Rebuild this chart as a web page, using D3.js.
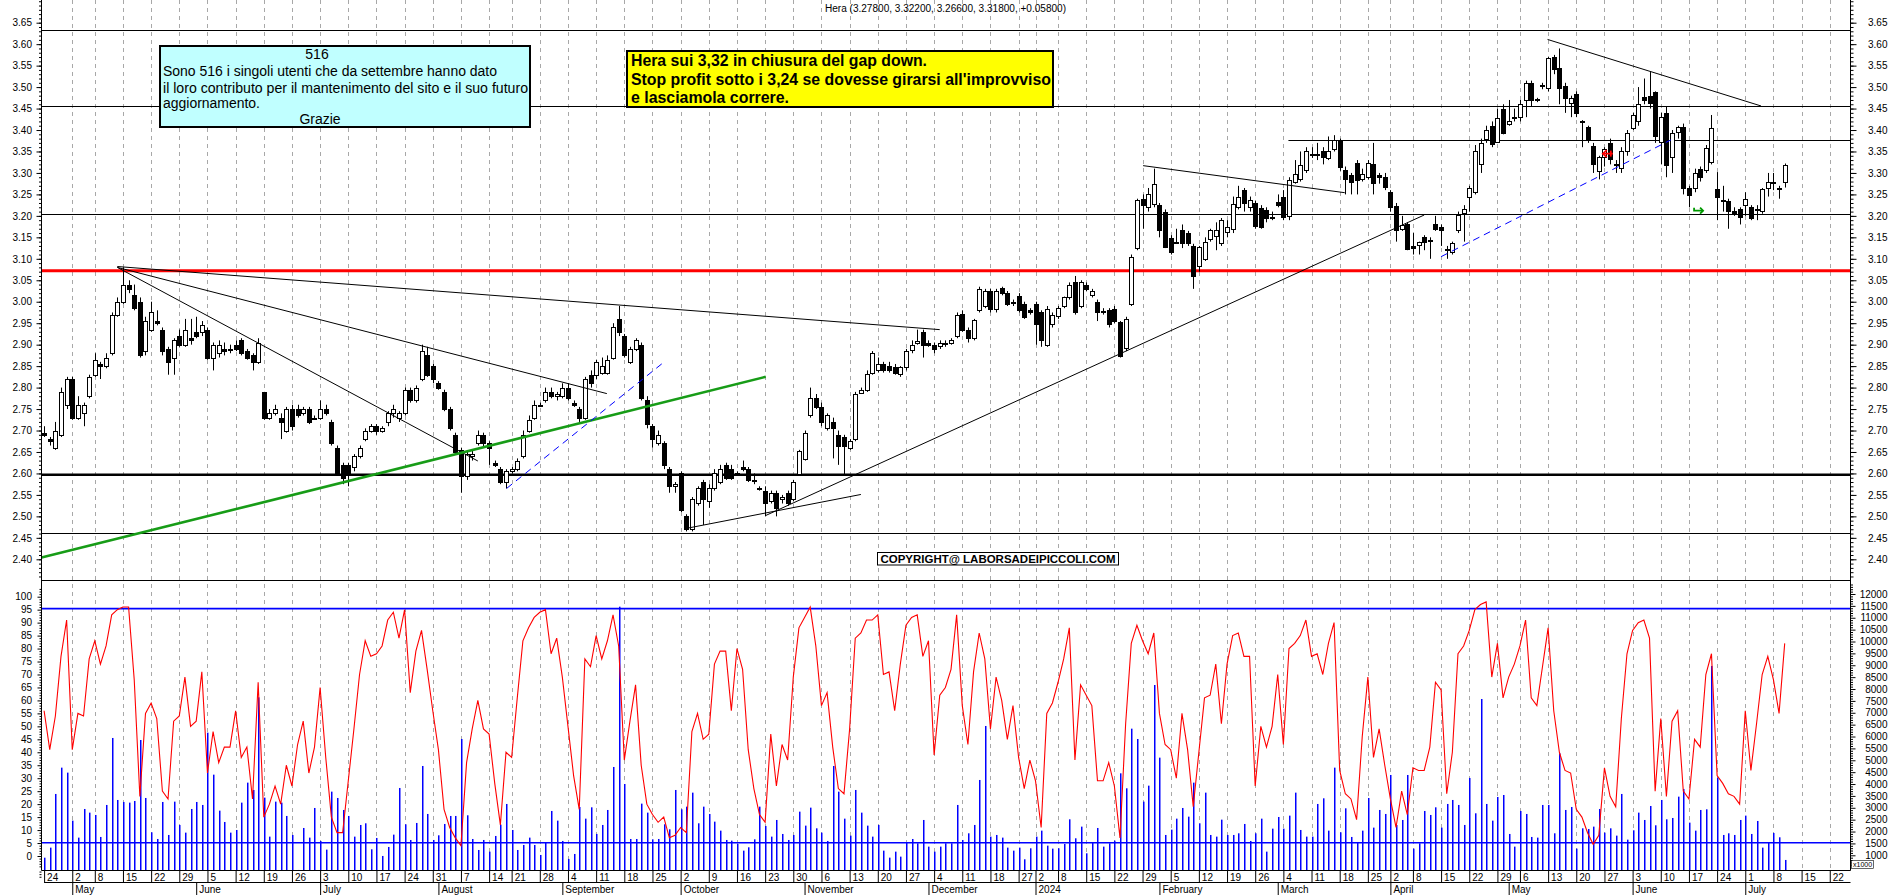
<!DOCTYPE html>
<html><head><meta charset="utf-8">
<script src="https://cdn.jsdelivr.net/npm/d3@7"></script>
<style>body{margin:0;background:#fff}svg{display:block}</style>
</head><body><svg id="c" width="1890" height="895"></svg>
<script>
// ---------------- DATA ----------------
const startDate = "2023-04-24", endDate = "2024-07-26";
const holidays = ["2023-05-01","2023-08-15","2023-12-25","2023-12-26","2024-01-01","2024-03-29","2024-04-01","2024-05-01"];
const monthNames = ["January","February","March","April","May","June","July","August","September","October","November","December"];

const open = [
2.695,2.68,2.66,2.69,2.76,2.82,2.73,2.74,2.78,2.83,
2.855,2.85,2.88,2.97,3.00,3.04,3.015,3.00,2.885,2.935,
2.955,2.935,2.89,2.87,2.92,2.90,2.915,2.93,2.93,2.935,
2.87,2.88,2.89,2.89,2.90,2.91,2.885,2.875,2.86,2.79,
2.73,2.74,2.73,2.70,2.75,2.75,2.74,2.75,2.73,2.73,
2.75,2.72,2.66,2.62,2.62,2.615,2.64,2.68,2.70,2.71,
2.70,2.72,2.74,2.73,2.74,2.795,2.77,2.82,2.875,2.85,
2.81,2.79,2.75,2.69,2.655,2.595,2.64,2.67,2.69,2.67,
2.625,2.61,2.58,2.605,2.61,2.64,2.70,2.73,2.76,2.77,
2.79,2.78,2.78,2.80,2.765,2.75,2.73,2.83,2.83,2.835,
2.835,2.87,2.96,2.92,2.86,2.89,2.90,2.77,2.71,2.67,
2.67,2.61,2.57,2.60,2.50,2.47,2.53,2.58,2.535,2.565,
2.58,2.62,2.61,2.60,2.615,2.61,2.585,2.565,2.56,2.535,
2.555,2.54,2.555,2.54,2.598,2.634,2.735,2.775,2.755,2.705,
2.72,2.69,2.685,2.66,2.68,2.787,2.795,2.835,2.84,2.855,
2.85,2.848,2.832,2.848,2.887,2.905,2.93,2.905,2.90,2.896,
2.905,2.905,2.92,2.972,2.935,2.915,2.98,2.99,3.025,2.982,
3.033,3.02,2.998,3.013,2.995,2.98,2.994,2.975,2.90,2.947,
2.966,2.99,3.01,3.045,2.99,3.04,3.015,3.00,2.978,2.98,
2.982,2.952,2.893,2.994,3.125,3.24,3.22,3.228,3.225,3.21,
3.148,3.14,3.167,3.16,3.13,3.083,3.10,3.145,3.153,3.136,
3.163,3.17,3.22,3.26,3.221,3.23,3.218,3.214,3.198,3.233,
3.245,3.20,3.28,3.287,3.307,3.343,3.342,3.352,3.334,3.355,
3.375,3.308,3.295,3.324,3.285,3.291,3.322,3.295,3.291,3.256,
3.223,3.169,3.181,3.13,3.132,3.15,3.142,3.181,3.173,3.122,
3.117,3.167,3.207,3.245,3.256,3.322,3.378,3.409,3.372,3.45,
3.414,3.43,3.431,3.47,3.51,3.473,3.505,3.497,3.569,3.544,
3.502,3.464,3.484,3.422,3.406,3.363,3.305,3.338,3.37,3.322,
3.311,3.352,3.404,3.42,3.478,3.479,3.488,3.373,3.44,3.338,
3.396,3.406,3.264,3.264,3.31,3.307,3.326,3.262,3.236,3.235,
3.212,3.215,3.225,3.22,3.217,3.212,3.264,3.28,3.265,3.278];

const high = [
2.71,2.685,2.72,2.80,2.825,2.825,2.78,2.765,2.83,2.88,
2.86,2.88,2.975,3.01,3.08,3.05,3.04,3.01,2.965,3.00,
2.98,2.94,2.895,2.915,2.935,2.96,2.96,2.965,2.955,2.94,
2.905,2.91,2.905,2.90,2.91,2.915,2.89,2.88,2.915,2.79,
2.75,2.76,2.74,2.755,2.76,2.76,2.755,2.755,2.735,2.77,
2.76,2.725,2.665,2.625,2.625,2.645,2.665,2.705,2.715,2.715,
2.71,2.745,2.76,2.745,2.80,2.80,2.805,2.90,2.895,2.855,
2.815,2.795,2.755,2.695,2.66,2.65,2.655,2.70,2.695,2.675,
2.63,2.615,2.61,2.615,2.635,2.70,2.735,2.77,2.765,2.80,
2.80,2.79,2.81,2.81,2.77,2.755,2.825,2.84,2.865,2.87,
2.875,2.95,2.99,2.925,2.895,2.915,2.905,2.78,2.715,2.70,
2.675,2.615,2.58,2.605,2.505,2.545,2.57,2.585,2.575,2.61,
2.62,2.625,2.62,2.605,2.63,2.615,2.60,2.57,2.57,2.56,
2.56,2.55,2.56,2.585,2.655,2.70,2.80,2.785,2.765,2.74,
2.73,2.70,2.69,2.68,2.79,2.80,2.84,2.885,2.87,2.86,
2.86,2.855,2.85,2.89,2.91,2.935,2.935,2.91,2.905,2.91,
2.91,2.915,2.975,2.98,2.94,2.96,3.035,3.03,3.03,3.03,
3.035,3.025,3.005,3.02,3.00,2.985,3.00,2.98,2.99,2.975,
2.99,3.012,3.045,3.06,3.05,3.045,3.03,3.005,2.985,2.985,
2.99,2.955,2.965,3.11,3.24,3.25,3.265,3.31,3.23,3.215,
3.155,3.17,3.18,3.165,3.135,3.13,3.15,3.17,3.185,3.195,
3.19,3.245,3.27,3.265,3.245,3.235,3.225,3.22,3.21,3.25,
3.26,3.29,3.33,3.35,3.36,3.36,3.37,3.36,3.385,3.388,
3.38,3.315,3.30,3.33,3.31,3.33,3.37,3.30,3.30,3.26,
3.23,3.20,3.185,3.16,3.14,3.155,3.15,3.20,3.18,3.13,
3.14,3.21,3.225,3.27,3.365,3.38,3.41,3.42,3.45,3.46,
3.47,3.45,3.47,3.515,3.515,3.475,3.51,3.57,3.575,3.59,
3.51,3.48,3.49,3.423,3.41,3.37,3.34,3.36,3.38,3.33,
3.36,3.40,3.44,3.50,3.52,3.535,3.49,3.44,3.455,3.40,
3.41,3.415,3.27,3.31,3.315,3.365,3.435,3.302,3.27,3.24,
3.22,3.22,3.255,3.225,3.225,3.265,3.30,3.30,3.27,3.322];

const low = [
2.685,2.665,2.655,2.685,2.75,2.725,2.725,2.71,2.775,2.825,
2.82,2.845,2.875,2.965,2.995,3.02,2.98,2.87,2.875,2.93,
2.945,2.875,2.83,2.83,2.895,2.895,2.90,2.915,2.92,2.865,
2.84,2.87,2.875,2.88,2.885,2.875,2.865,2.84,2.855,2.725,
2.725,2.735,2.68,2.695,2.70,2.73,2.735,2.715,2.725,2.725,
2.735,2.665,2.595,2.575,2.57,2.605,2.635,2.675,2.695,2.69,
2.695,2.71,2.73,2.72,2.735,2.765,2.765,2.815,2.825,2.81,
2.795,2.745,2.70,2.645,2.555,2.585,2.63,2.665,2.66,2.62,
2.615,2.575,2.565,2.60,2.605,2.635,2.695,2.725,2.755,2.765,
2.775,2.77,2.775,2.77,2.755,2.72,2.725,2.80,2.82,2.83,
2.83,2.865,2.92,2.87,2.855,2.885,2.77,2.705,2.66,2.665,
2.61,2.555,2.555,2.51,2.465,2.465,2.525,2.48,2.52,2.56,
2.575,2.585,2.585,2.595,2.605,2.58,2.575,2.56,2.50,2.53,
2.50,2.53,2.525,2.535,2.595,2.63,2.73,2.75,2.71,2.70,
2.635,2.62,2.598,2.655,2.675,2.785,2.79,2.83,2.835,2.835,
2.835,2.83,2.825,2.84,2.88,2.90,2.87,2.895,2.88,2.89,
2.895,2.90,2.915,2.93,2.905,2.91,2.975,2.985,2.975,2.975,
3.015,2.99,2.99,2.975,2.96,2.97,2.90,2.895,2.895,2.94,
2.96,2.985,3.005,2.97,2.985,3.025,3.01,2.955,2.97,2.94,
2.95,2.87,2.885,2.99,3.12,3.17,3.21,3.22,3.15,3.125,
3.11,3.135,3.125,3.13,3.03,3.07,3.095,3.14,3.12,3.13,
3.15,3.16,3.215,3.21,3.21,3.17,3.17,3.185,3.19,3.22,
3.19,3.19,3.275,3.28,3.30,3.335,3.33,3.32,3.33,3.35,
3.305,3.25,3.25,3.25,3.28,3.285,3.25,3.275,3.26,3.21,
3.14,3.165,3.12,3.11,3.11,3.12,3.10,3.165,3.13,3.10,
3.11,3.16,3.14,3.21,3.25,3.30,3.37,3.36,3.37,3.39,
3.41,3.42,3.42,3.43,3.455,3.465,3.495,3.49,3.53,3.46,
3.44,3.43,3.43,3.36,3.37,3.30,3.285,3.315,3.32,3.30,
3.30,3.34,3.40,3.41,3.46,3.45,3.37,3.32,3.29,3.30,
3.38,3.25,3.22,3.255,3.28,3.30,3.32,3.19,3.21,3.17,
3.20,3.18,3.20,3.19,3.19,3.205,3.245,3.26,3.24,3.266];

const close = [
2.69,2.675,2.70,2.79,2.82,2.73,2.76,2.76,2.825,2.865,
2.85,2.87,2.97,3.00,3.04,3.03,2.985,2.875,2.955,2.975,
2.95,2.885,2.86,2.91,2.90,2.935,2.91,2.92,2.945,2.87,
2.90,2.90,2.885,2.89,2.89,2.88,2.87,2.86,2.905,2.73,
2.74,2.75,2.72,2.75,2.71,2.735,2.75,2.72,2.73,2.75,
2.74,2.67,2.60,2.59,2.60,2.64,2.66,2.70,2.71,2.70,
2.705,2.74,2.75,2.74,2.795,2.77,2.80,2.885,2.83,2.82,
2.80,2.75,2.705,2.65,2.595,2.645,2.645,2.69,2.67,2.66,
2.62,2.58,2.605,2.61,2.63,2.69,2.725,2.76,2.76,2.79,
2.78,2.785,2.80,2.775,2.76,2.73,2.82,2.81,2.86,2.85,
2.865,2.94,2.93,2.875,2.89,2.91,2.775,2.715,2.68,2.69,
2.62,2.57,2.575,2.515,2.47,2.54,2.565,2.54,2.565,2.60,
2.61,2.59,2.59,2.60,2.61,2.585,2.585,2.565,2.53,2.555,
2.52,2.545,2.53,2.58,2.652,2.695,2.775,2.755,2.72,2.735,
2.705,2.665,2.665,2.675,2.785,2.795,2.832,2.88,2.855,2.84,
2.842,2.835,2.848,2.885,2.90,2.908,2.90,2.90,2.89,2.905,
2.905,2.91,2.97,2.935,2.915,2.958,3.03,3.025,2.982,3.025,
3.02,2.994,3.00,2.98,2.965,2.975,2.947,2.91,2.982,2.97,
2.985,3.01,3.04,2.975,3.045,3.03,3.025,2.975,2.976,2.948,
2.955,2.873,2.959,3.105,3.238,3.225,3.252,3.275,3.167,3.127,
3.115,3.14,3.136,3.137,3.06,3.128,3.138,3.167,3.168,3.19,
3.173,3.228,3.243,3.23,3.237,3.176,3.175,3.195,3.196,3.225,
3.198,3.283,3.297,3.318,3.35,3.342,3.343,3.336,3.35,3.377,
3.313,3.287,3.28,3.284,3.298,3.324,3.276,3.29,3.268,3.221,
3.167,3.179,3.122,3.125,3.138,3.138,3.143,3.169,3.167,3.121,
3.136,3.202,3.217,3.266,3.35,3.37,3.40,3.367,3.427,3.394,
3.42,3.431,3.46,3.51,3.47,3.471,3.506,3.567,3.541,3.499,
3.474,3.474,3.44,3.421,3.38,3.322,3.336,3.355,3.332,3.32,
3.352,3.392,3.435,3.46,3.47,3.464,3.385,3.43,3.318,3.392,
3.408,3.266,3.249,3.30,3.291,3.357,3.404,3.245,3.235,3.212,
3.206,3.197,3.239,3.194,3.217,3.262,3.28,3.276,3.264,3.318];

const oscillator = [
56,41,54,77,91,41,55,54,76,83,
74,81,93,95,96,96,68,23,55,59,
53,25,22,52,54,69,50,52,71,32,
48,36,42,42,56,38,42,22,67,15,
20,27,20,35,27,43,52,32,42,65,
38,15,9,9,29,49,70,83,77,78,
81,91,94,84,95,63,79,87,72,56,
41,18,11,7,4,36,49,60,49,47,
28,12,40,38,61,83,88,92,94,95,
78,84,69,50,31,18,76,73,85,76,
83,93,81,37,52,66,35,20,16,13,
15,7,8,11,9,48,55,45,47,74,
79,79,56,80,72,41,26,16,13,47,
27,43,37,69,88,92,96,81,58,63,
42,26,24,49,84,86,91,91,93,70,
71,56,74,89,92,93,77,83,39,62,
65,72,93,58,43,71,86,76,49,69,
60,45,58,38,26,37,29,11,55,59,
67,76,88,37,66,62,58,29,29,36,
27,7,51,82,89,83,78,86,55,43,
41,30,55,41,19,40,61,62,74,51,
74,85,86,77,77,27,50,42,50,70,
43,80,82,85,91,77,78,70,82,90,
33,24,22,14,46,69,38,49,35,22,
11,25,16,34,33,33,42,67,64,24,
40,78,81,87,95,97,98,69,82,61,
69,74,81,91,61,58,73,88,56,40,
33,32,18,15,9,4.5,8,34,23,19,
53,78,87,90,91,84,25,53,23,52,
56,25,22,45,42,70,78,31,28,24,
23,20,56,33,51,70,77,68,55,82];

const volume = [
900,1323,3582,4690,4480,2459,1744,2950,2796,2698,
1772,3119,5939,3329,3245,3217,3287,5854,3413,1968,
1687,3245,1856,3259,2277,1954,2950,3245,3119,6163,
4395,2880,2403,1954,2066,3217,4059,3750,7650,3427,
1786,3259,3217,2656,1856,383,2150,1744,2992,1603,
1239,3680,3413,2908,2656,1786,2277,2347,1253,1730,
972,1351,1870,3834,2305,1645,2361,4760,2740,1645,
1842,2319,2656,2656,5896,2684,1687,1224,1645,1154,
1814,2291,3161,2066,1224,1435,1744,1435,1014,1547,
2866,2459,1603,846,1056,3034,2543,3020,1898,2277,
2908,4718,11466,4002,1687,1687,3175,2796,1673,1687,
2305,2094,3750,2936,3048,3638,2347,3048,2740,2417,
2038,1645,1617,1477,1196,1337,1673,3048,2235,1786,
2487,1898,1645,1856,2838,2249,3006,2136,1954,1603,
4760,3680,2543,1828,3750,2796,2249,1786,2277,1196,
902,1154,944,1533,1687,1505,2487,1365,1154,1365,
1505,1505,3119,1645,1926,2277,4171,6444,1786,1856,
1744,1323,1196,1323,832,1295,1786,2038,1407,1281,
1295,1477,2515,1716,2207,1084,1533,2150,1365,1505,
1617,4451,3820,6331,5896,3259,3932,8169,5111,1856,
2080,2543,2992,2627,4059,2347,3638,1856,1786,2501,
1856,1856,1926,2319,1603,1926,2543,1154,2122,2613,
2122,2670,3638,2066,1786,1786,3161,3399,2038,4690,
1968,2978,1772,1561,2038,3413,2165,2908,2740,4381,
2277,2487,4381,1281,1505,2866,2698,3020,2165,3161,
3329,3119,2277,4255,2768,7580,3161,2459,3455,3539,
1898,1365,2866,2740,1772,1744,3119,3119,1926,5293,
2908,3034,1281,2136,2108,2207,2950,1954,2136,1828,
3582,1659,2052,2796,2487,3076,2263,3329,2515,2571,
3469,3792,2375,2038,2908,2936,8970,4269,1856,1926,
1856,2487,2670,1898,2445,1323,1547,1940,1758,804];

const priceTicks = [2.40,2.45,2.50,2.55,2.60,2.65,2.70,2.75,2.80,2.85,2.90,2.95,3.00,3.05,3.10,3.15,3.20,3.25,3.30,3.35,3.40,3.45,3.50,3.55,3.60,3.65];
const oscTicks = [0,5,10,15,20,25,30,35,40,45,50,55,60,65,70,75,80,85,90,95,100];
const volTicks = [1000,1500,2000,2500,3000,3500,4000,4500,5000,5500,6000,6500,7000,7500,8000,8500,9000,9500,10000,10500,11000,11500,12000];

const thinLevels = [3.632, 3.455, 3.204, 2.461];
const redLevel = 3.072, thickLevel = 2.597;
const partialLevel = {from: 220.9, v: 3.376};
const oscLevels = [95.4, 5.1];

const trendLines = [
  {i1:13, v1:3.082, i2:159, v2:2.935, kind:"black"},
  {i1:13, v1:3.080, i2:99.9, v2:2.786, kind:"black"},
  {i1:13, v1:3.080, i2:77, v2:2.629, kind:"black"},
  {i1:-0.45, v1:2.404, i2:128.1, v2:2.825, kind:"green"},
  {i1:82.1, v1:2.565, i2:110.1, v2:2.860, kind:"blue"},
  {i1:248, v1:3.105, i2:288.8, v2:3.377, kind:"blue"},
  {i1:114.2, v1:2.4725, i2:145, v2:2.551, kind:"black"},
  {i1:128.1, v1:2.502, i2:245, v2:3.202, kind:"black"},
  {i1:195.1, v1:3.317, i2:230.9, v2:3.254, kind:"black"},
  {i1:266.9, v1:3.611, i2:304.8, v2:3.456, kind:"black"}
];
const arrows = [{i:277.6, v:3.345, dir:-1, color:"#ff0000"},{i:293.8, v:3.212, dir:1, color:"#009900"}];

const titleText = "Hera (3.27800, 3.32200, 3.26600, 3.31800, +0.05800)";
const cyanLines = ["516","Sono 516 i singoli utenti che da settembre hanno dato","il loro contributo per il mantenimento del sito e il suo futuro","aggiornamento.","Grazie"];
const yellowLines = ["Hera sui 3,32 in chiusura del gap down.","Stop profit sotto i 3,24 se dovesse girarsi all'improvviso","e lasciamola correre."];
const copyrightText = "COPYRIGHT@ LABORSADEIPICCOLI.COM";

// ---------------- CALENDAR ----------------
const days = [];
for (let t = Date.parse(startDate+"T00:00:00Z"); t <= Date.parse(endDate+"T00:00:00Z"); t += 86400000) {
  const d = new Date(t), wd = d.getUTCDay();
  if (wd === 0 || wd === 6) continue;
  if (holidays.includes(d.toISOString().slice(0,10))) continue;
  days.push(d);
}
const weekIdx = [], monthIdx = [];
days.forEach((d,i) => {
  const mon = Math.floor((d.getTime() - ((d.getUTCDay()+6)%7)*86400000)/86400000);
  if (i === 0) { weekIdx.push(i); return; }
  const p = days[i-1];
  const pmon = Math.floor((p.getTime() - ((p.getUTCDay()+6)%7)*86400000)/86400000);
  if (mon !== pmon) weekIdx.push(i);
  if (d.getUTCMonth() !== p.getUTCMonth()) monthIdx.push(i);
});

// ---------------- SCALES ----------------
const L = 41.5, R = 1850.5, PB = 580.5, OB = 870.5, DB = 882.5;
const x = d3.scaleLinear().domain([0, 309]).range([44.1, 1784.7]);
const y = d3.scaleLinear().domain([2.40, 3.65]).range([559.3, 22.7]);
const yo = d3.scaleLinear().domain([0, 100]).range([856, 596.7]);
const yv = d3.scaleLinear().domain([1000, 12000]).range([855.3, 594]);
const wk = weekIdx.filter(i => x(i) < R - 2);
const mk = monthIdx.filter(i => x(i) < R - 2);

const svg = d3.select("#c");
const FONT = "'Liberation Sans', Arial, sans-serif";
const NARROW = "'Liberation Sans Narrow','Arial Narrow','Liberation Sans',Arial,sans-serif";
svg.append("rect").attr("width",1890).attr("height",895).attr("fill","#fff");
const defs = svg.append("defs");
defs.append("clipPath").attr("id","cp").append("rect").attr("x",L).attr("y",0).attr("width",R-L).attr("height",PB);
defs.append("clipPath").attr("id","co").append("rect").attr("x",L).attr("y",PB).attr("width",R-L).attr("height",OB-PB);

// grid
svg.append("g").selectAll("line").data(wk.filter(i=>i>0)).join("line")
  .attr("x1",i=>Math.round(x(i))+0.5).attr("x2",i=>Math.round(x(i))+0.5)
  .attr("y1",0).attr("y2",OB).attr("stroke","#a8a8a8").attr("stroke-dasharray","4,4");

// ---------------- PRICE PANEL ----------------
const gp = svg.append("g").attr("clip-path","url(#cp)");
const hy = v => Math.round(y(v)) + 0.5;
gp.selectAll(".lv").data(thinLevels).join("line").attr("class","lv")
  .attr("x1",L).attr("x2",R).attr("y1",hy).attr("y2",hy).attr("stroke","#000").attr("stroke-width",1);
gp.append("line").attr("x1",x(partialLevel.from)).attr("x2",R).attr("y1",hy(partialLevel.v)).attr("y2",hy(partialLevel.v)).attr("stroke","#000");
gp.append("line").attr("x1",L).attr("x2",R).attr("y1",y(redLevel)).attr("y2",y(redLevel)).attr("stroke","#ff0000").attr("stroke-width",3);
gp.append("line").attr("x1",L).attr("x2",R).attr("y1",y(thickLevel)).attr("y2",y(thickLevel)).attr("stroke","#000").attr("stroke-width",2.5);

// candles
const cIdx = d3.range(open.length);
const cg = gp.append("g");
cIdx.forEach(i => {
  const cx = Math.round(x(i));
  cg.append("line").attr("x1",cx+0.5).attr("x2",cx+0.5).attr("y1",y(high[i])).attr("y2",y(low[i])).attr("stroke","#000");
  const top = Math.round(y(Math.max(open[i],close[i]))), bot = Math.round(y(Math.min(open[i],close[i])));
  const up = close[i] >= open[i];
  cg.append("rect").attr("x",cx-1.5).attr("y",top+0.5).attr("width",4).attr("height",Math.max(1,bot-top))
    .attr("fill", up ? "#fff" : "#000").attr("stroke","#000").attr("stroke-width",1);
});

// trend lines
const tl = gp.append("g");
trendLines.forEach(t => {
  const ln = tl.append("line").attr("x1",x(t.i1)).attr("y1",y(t.v1)).attr("x2",x(t.i2)).attr("y2",y(t.v2));
  if (t.kind === "green") ln.attr("stroke","#179c17").attr("stroke-width",2.6);
  else if (t.kind === "blue") ln.attr("stroke","#0000ff").attr("stroke-width",1).attr("stroke-dasharray","7,5");
  else ln.attr("stroke","#000").attr("stroke-width",1);
});
arrows.forEach(a => {
  const ax = x(a.i), ay = y(a.v), d = a.dir;
  const g = gp.append("g").attr("stroke",a.color).attr("fill","none").attr("stroke-width",1.8);
  if (d < 0) {
    g.append("line").attr("x1",ax+5).attr("x2",ax-5).attr("y1",ay).attr("y2",ay);
    g.append("polyline").attr("points",`${ax-1},${ay-3.5} ${ax-5},${ay} ${ax-1},${ay+3.5}`);
    g.append("line").attr("x1",ax+3).attr("x2",ax+3).attr("y1",ay-3).attr("y2",ay+3);
  } else {
    g.append("polyline").attr("points",`${ax-5},${ay-3} ${ax-5},${ay} ${ax+4},${ay}`);
    g.append("polyline").attr("points",`${ax+1},${ay-3} ${ax+4},${ay} ${ax+1},${ay+3}`);
  }
});

// ---------------- OSCILLATOR / VOLUME PANEL ----------------
const go = svg.append("g").attr("clip-path","url(#co)");
go.selectAll(".vb").data(cIdx).join("rect").attr("class","vb")
  .attr("x",i=>Math.round(x(i))).attr("width",1.5)
  .attr("y",i=>yv(volume[i])).attr("height",i=>Math.max(0,OB-yv(volume[i])))
  .attr("fill","#0000ff");
go.selectAll(".ol").data(oscLevels).join("line").attr("class","ol")
  .attr("x1",L).attr("x2",R).attr("y1",v=>yo(v)).attr("y2",v=>yo(v)).attr("stroke","#0000ff").attr("stroke-width",1.6);
go.append("path").datum(cIdx).attr("fill","none").attr("stroke","#ff0000").attr("stroke-width",1.1)
  .attr("d", d3.line().x(i=>x(i)).y(i=>yo(oscillator[i])));

// ---------------- FRAMES ----------------
const fr = svg.append("g").attr("stroke","#000").attr("stroke-width",1);
fr.append("line").attr("x1",L).attr("x2",L).attr("y1",0).attr("y2",OB);
fr.append("line").attr("x1",R).attr("x2",R).attr("y1",0).attr("y2",OB);
fr.append("line").attr("x1",L).attr("x2",R).attr("y1",PB).attr("y2",PB);
fr.append("line").attr("x1",L).attr("x2",R).attr("y1",OB).attr("y2",OB);
fr.append("line").attr("x1",x(0)).attr("x2",R).attr("y1",DB).attr("y2",DB);

// ---------------- AXES ----------------
function styleAxis(g){ g.select(".domain").remove(); g.selectAll("text").attr("font-family",FONT).attr("font-size",10).attr("fill","#000"); g.selectAll("line").attr("stroke","#000"); }
const minorPrice = d3.range(236, 371).map(k=>k/100).filter(v=>y(v)>1 && y(v)<PB-1);
svg.append("g").attr("transform",`translate(${L},0)`).call(d3.axisLeft(y).tickValues(priceTicks).tickFormat(d3.format(".2f")).tickSize(5).tickPadding(4.5)).call(styleAxis);
svg.append("g").attr("transform",`translate(${L},0)`).call(d3.axisLeft(y).tickValues(minorPrice).tickFormat("").tickSize(2.5)).call(styleAxis);
const gr = svg.append("g").attr("transform",`translate(${R},0)`).call(d3.axisRight(y).tickValues(priceTicks).tickFormat(d3.format(".2f")).tickSize(6)).call(styleAxis);
gr.selectAll("text").attr("x",37).attr("text-anchor","end");
svg.append("g").attr("transform",`translate(${R},0)`).call(d3.axisRight(y).tickValues(minorPrice).tickFormat("").tickSize(3)).call(styleAxis);

svg.append("g").attr("transform",`translate(${L},0)`).call(d3.axisLeft(yo).tickValues(oscTicks).tickFormat(d3.format("d")).tickSize(4).tickPadding(5.5)).call(styleAxis);
const minorOsc = d3.range(-8, 104).filter(v=>v%5!==0);
svg.append("g").attr("transform",`translate(${L},0)`).call(d3.axisLeft(yo).tickValues(minorOsc).tickFormat("").tickSize(2)).call(styleAxis);
const gv = svg.append("g").attr("transform",`translate(${R},0)`).call(d3.axisRight(yv).tickValues(volTicks).tickFormat(d3.format("d")).tickSize(5)).call(styleAxis);
gv.selectAll("text").attr("x",37).attr("text-anchor","end");
const minorVol = d3.range(500, 12600, 100).filter(v=>v%500!==0 && yv(v)<OB-1);
svg.append("g").attr("transform",`translate(${R},0)`).call(d3.axisRight(yv).tickValues(minorVol).tickFormat("").tickSize(2.5)).call(styleAxis);
svg.append("rect").attr("x",1851.5).attr("y",860.5).attr("width",22).attr("height",8).attr("fill","#fff").attr("stroke","#000").attr("stroke-width",0.6);
svg.append("text").attr("x",1853).attr("y",867.3).attr("font-family",FONT).attr("font-size",7).text("x1000");

// time axis
const gd = svg.append("g").attr("transform",`translate(0,${OB})`)
  .call(d3.axisBottom(x).tickValues(wk).tickFormat(i=>String(days[i].getUTCDate())).tickSize(12).tickSizeOuter(0)).call(styleAxis);
gd.selectAll("text").attr("x",2.5).attr("y",10.3).attr("dy",0).attr("text-anchor","start");
const gm = svg.append("g").attr("transform",`translate(0,${DB})`)
  .call(d3.axisBottom(x).tickValues(mk).tickFormat(i=>{const d=days[i];return d.getUTCMonth()===0?String(d.getUTCFullYear()):monthNames[d.getUTCMonth()];}).tickSize(13).tickSizeOuter(0)).call(styleAxis);
gm.selectAll("text").attr("x",2.5).attr("y",10.8).attr("dy",0).attr("text-anchor","start");

// ---------------- ANNOTATIONS ----------------
svg.append("text").attr("x",825).attr("y",12).attr("font-family",NARROW).attr("font-size",10)
  .attr("textLength",241).attr("lengthAdjust","spacingAndGlyphs").text(titleText);

svg.append("rect").attr("x",160).attr("y",46).attr("width",370).attr("height",81).attr("fill","#c0ffff").attr("stroke","#000").attr("stroke-width",2);
const cyanPos = [{x:317,y:59.3,a:"middle",w:0},{x:163,y:75.7,a:"start",w:334},{x:163,y:92.5,a:"start",w:365},{x:163,y:107.8,a:"start",w:97},{x:320,y:124,a:"middle",w:0}];
cyanLines.forEach((t,k)=>{
  const p = cyanPos[k];
  const tx = svg.append("text").attr("x",p.x).attr("y",p.y).attr("text-anchor",p.a).attr("font-family",NARROW).attr("font-size",14).attr("fill","#000").text(t);
  if (p.w) tx.attr("textLength",p.w).attr("lengthAdjust","spacingAndGlyphs");
});

svg.append("rect").attr("x",627).attr("y",51).attr("width",426).attr("height",56).attr("fill","#ffff00").attr("stroke","#000").attr("stroke-width",2);
const yPos = [{y:66.2,w:296},{y:84.8,w:420},{y:102.5,w:158}];
yellowLines.forEach((t,k)=>{
  svg.append("text").attr("x",631).attr("y",yPos[k].y).attr("font-family",NARROW).attr("font-weight","bold").attr("font-size",16)
    .attr("textLength",yPos[k].w).attr("lengthAdjust","spacingAndGlyphs").attr("fill","#000").text(t);
});

svg.append("rect").attr("x",877.5).attr("y",552.5).attr("width",241).attr("height",12.5).attr("fill","#fff").attr("stroke","#000").attr("stroke-width",1);
svg.append("text").attr("x",880.5).attr("y",563.2).attr("font-family",FONT).attr("font-weight","bold").attr("font-size",11)
  .attr("textLength",235).attr("lengthAdjust","spacingAndGlyphs").text(copyrightText);
</script>
</body></html>
